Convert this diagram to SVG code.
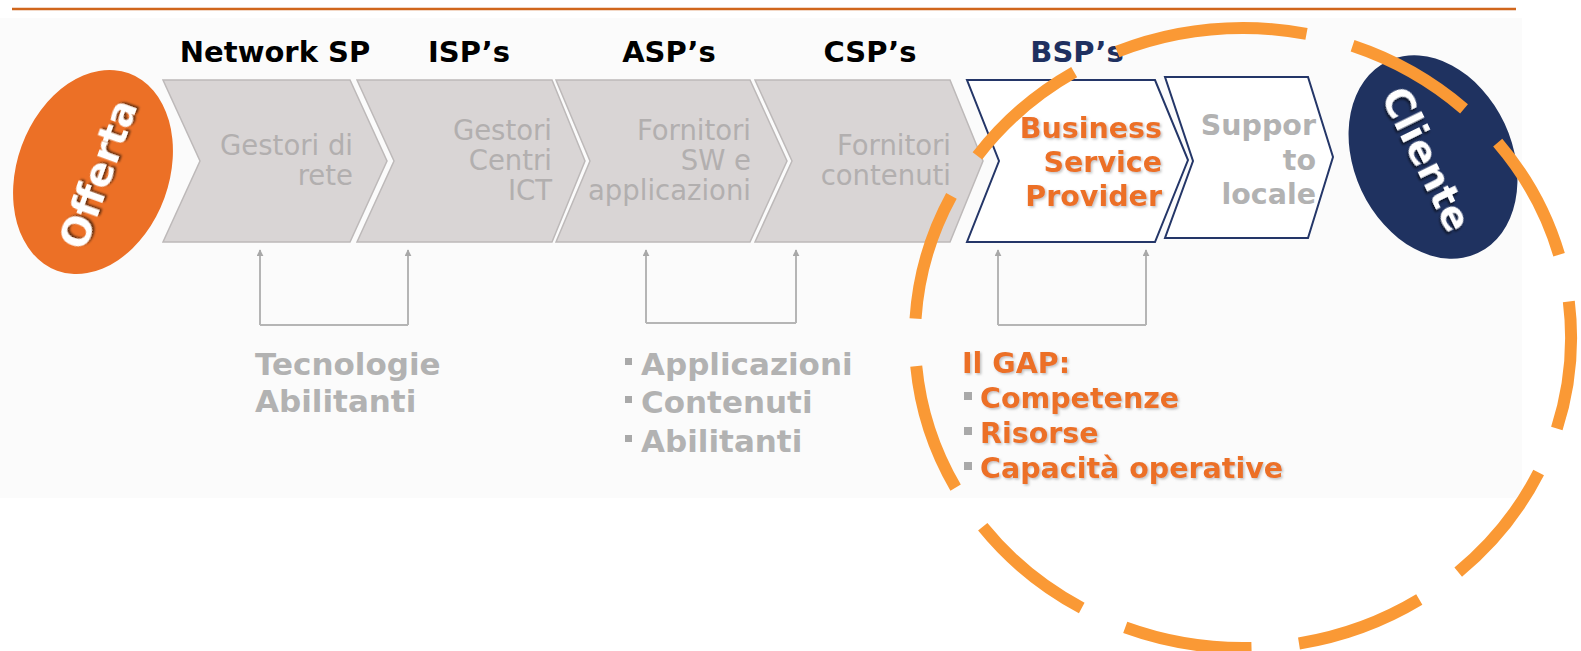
<svg xmlns="http://www.w3.org/2000/svg" width="1581" height="651" viewBox="0 0 1581 651">
  <defs>
    <style>
      .hdr { font-family: "DejaVu Sans", Verdana, sans-serif; font-weight: bold; font-size: 29px; text-anchor: middle; fill: #000; }
      .chev { fill: #d9d5d5; stroke: #bdb9b9; stroke-width: 1.5; }
      .chevw { fill: #ffffff; stroke: #243668; stroke-width: 2; }
      .ct { font-family: "DejaVu Sans", Verdana, sans-serif; font-size: 27.5px; fill: #b2afaf; text-anchor: end; }
      .ctb { font-family: "DejaVu Sans", Verdana, sans-serif; font-size: 28.5px; font-weight: bold; text-anchor: end; }
      .lbl { font-family: "DejaVu Sans", Verdana, sans-serif; font-size: 31px; font-weight: bold; fill: #b2b2b2; }
      .gap { font-family: "DejaVu Sans", Verdana, sans-serif; font-size: 28.5px; font-weight: bold; fill: #ec7026; }
      .oval { font-family: "DejaVu Sans", Verdana, sans-serif; font-size: 39px; font-weight: bold; fill: #ffffff; text-anchor: middle; }
      .brk { fill: none; stroke: #b5b5b5; stroke-width: 2; }
      .bul { fill: #a9a9a9; }
    </style>
    <marker id="arr" viewBox="0 0 10 10" refX="9" refY="5" markerWidth="7" markerHeight="7" markerUnits="userSpaceOnUse" orient="auto">
      <path d="M0,0 L10,5 L0,10 z" fill="#a8a8a8"/>
    </marker>
    <filter id="shd" x="-20%" y="-20%" width="140%" height="140%">
      <feDropShadow dx="2" dy="2" stdDeviation="1" flood-color="#000" flood-opacity="0.6"/>
    </filter>
    <filter id="shl" x="-10%" y="-20%" width="120%" height="140%">
      <feDropShadow dx="1.5" dy="1.5" stdDeviation="0.8" flood-color="#888" flood-opacity="0.5"/>
    </filter>
  </defs>

  <rect x="0" y="0" width="1581" height="651" fill="#ffffff"/>
  <rect x="0" y="18" width="1522" height="480" fill="#fbfbfb"/>
  <line x1="12" y1="9" x2="1516" y2="9" stroke="#d0661c" stroke-width="2.5"/>

  <g id="headers">
    <text class="hdr" x="275" y="62">Network SP</text>
    <text class="hdr" x="469" y="62">ISP’s</text>
    <text class="hdr" x="669" y="62">ASP’s</text>
    <text class="hdr" x="870" y="62">CSP’s</text>
    <text class="hdr" x="1077" y="62" style="fill:#1f3060">BSP’s</text>
  </g>

  <g id="offerta">
    <ellipse cx="93" cy="172" rx="76" ry="105" transform="rotate(20 93 172)" fill="#ec7026"/>
    <text class="oval" x="0" y="0" transform="translate(98 174) rotate(-70)" dy="14" filter="url(#shd)">Offerta</text>
  </g>

  <g id="cliente">
    <ellipse cx="1433" cy="157" rx="79" ry="106" transform="rotate(-25 1433 157)" fill="#1f3260"/>
    <text class="oval" x="0" y="0" transform="translate(1427 159) rotate(64)" dy="14" filter="url(#shd)">Cliente</text>
  </g>

  <g id="network-sp">
    <polygon class="chev" points="163,80 350,80 387,161 350,242 163,242 200,161"/>
    <text class="ct" x="353" y="155">Gestori di</text>
    <text class="ct" x="353" y="185">rete</text>
  </g>
  <g id="isp">
    <polygon class="chev" points="357,80 552,80 585,161 552,242 357,242 394,161"/>
    <text class="ct" x="552" y="140">Gestori</text>
    <text class="ct" x="552" y="170">Centri</text>
    <text class="ct" x="552" y="200">ICT</text>
  </g>
  <g id="asp">
    <polygon class="chev" points="556,80 750,80 787,161 750,242 556,242 590,161"/>
    <text class="ct" x="751" y="140">Fornitori</text>
    <text class="ct" x="751" y="170">SW e</text>
    <text class="ct" x="751" y="200">applicazioni</text>
  </g>
  <g id="csp">
    <polygon class="chev" points="755,80 950,80 983,161 950,242 755,242 792,161"/>
    <text class="ct" x="951" y="155">Fornitori</text>
    <text class="ct" x="951" y="185">contenuti</text>
  </g>
  <g id="bsp">
    <polygon class="chevw" points="967,80 1155,80 1188,160 1155,242 967,242 999,161"/>
    <text class="ctb" x="1162" y="138" fill="#ec7026" filter="url(#shl)">Business</text>
    <text class="ctb" x="1162" y="172" fill="#ec7026" filter="url(#shl)">Service</text>
    <text class="ctb" x="1162" y="206" fill="#ec7026" filter="url(#shl)">Provider</text>
  </g>
  <g id="supporto">
    <polygon class="chevw" points="1165,77 1308,77 1333,157 1308,238 1165,238 1193,161"/>
    <text class="ctb" x="1316" y="135" fill="#b2b2b2">Suppor</text>
    <text class="ctb" x="1316" y="170" fill="#b2b2b2">to</text>
    <text class="ctb" x="1316" y="204" fill="#b2b2b2">locale</text>
  </g>

  <g id="connectors">
    <path class="brk" d="M260,325 H408" />
    <path class="brk" d="M260,325 V250" marker-end="url(#arr)"/>
    <path class="brk" d="M408,325 V250" marker-end="url(#arr)"/>
    <path class="brk" d="M646,323 H796" />
    <path class="brk" d="M646,323 V250" marker-end="url(#arr)"/>
    <path class="brk" d="M796,323 V250" marker-end="url(#arr)"/>
    <path class="brk" d="M998,325 H1146" />
    <path class="brk" d="M998,325 V250" marker-end="url(#arr)"/>
    <path class="brk" d="M1146,325 V250" marker-end="url(#arr)"/>
  </g>

  <g id="tecnologie">
    <text class="lbl" x="255" y="375">Tecnologie</text>
    <text class="lbl" x="255" y="412">Abilitanti</text>
  </g>

  <g id="applicazioni">
    <rect class="bul" x="625" y="358" width="7" height="7"/>
    <text class="lbl" x="641" y="375">Applicazioni</text>
    <rect class="bul" x="625" y="396" width="7" height="7"/>
    <text class="lbl" x="641" y="413">Contenuti</text>
    <rect class="bul" x="625" y="435" width="7" height="7"/>
    <text class="lbl" x="641" y="452">Abilitanti</text>
  </g>

  <g id="gap">
    <text class="gap" x="962" y="373" filter="url(#shl)">Il GAP:</text>
    <rect class="bul" x="964" y="392" width="8" height="8"/>
    <text class="gap" x="980" y="408" filter="url(#shl)">Competenze</text>
    <rect class="bul" x="964" y="427" width="8" height="8"/>
    <text class="gap" x="980" y="443" filter="url(#shl)">Risorse</text>
    <rect class="bul" x="964" y="462" width="8" height="8"/>
    <text class="gap" x="980" y="478" filter="url(#shl)">Capacità operative</text>
  </g>

  <g id="gap-circle">
    <path d="M1243,28 A328,310 0 1 1 1243,648 A328,310 0 1 1 1243,28" fill="none" stroke="#fa9935" stroke-width="12" pathLength="1977" stroke-dasharray="127 47" stroke-dashoffset="64"/>
  </g>
</svg>
